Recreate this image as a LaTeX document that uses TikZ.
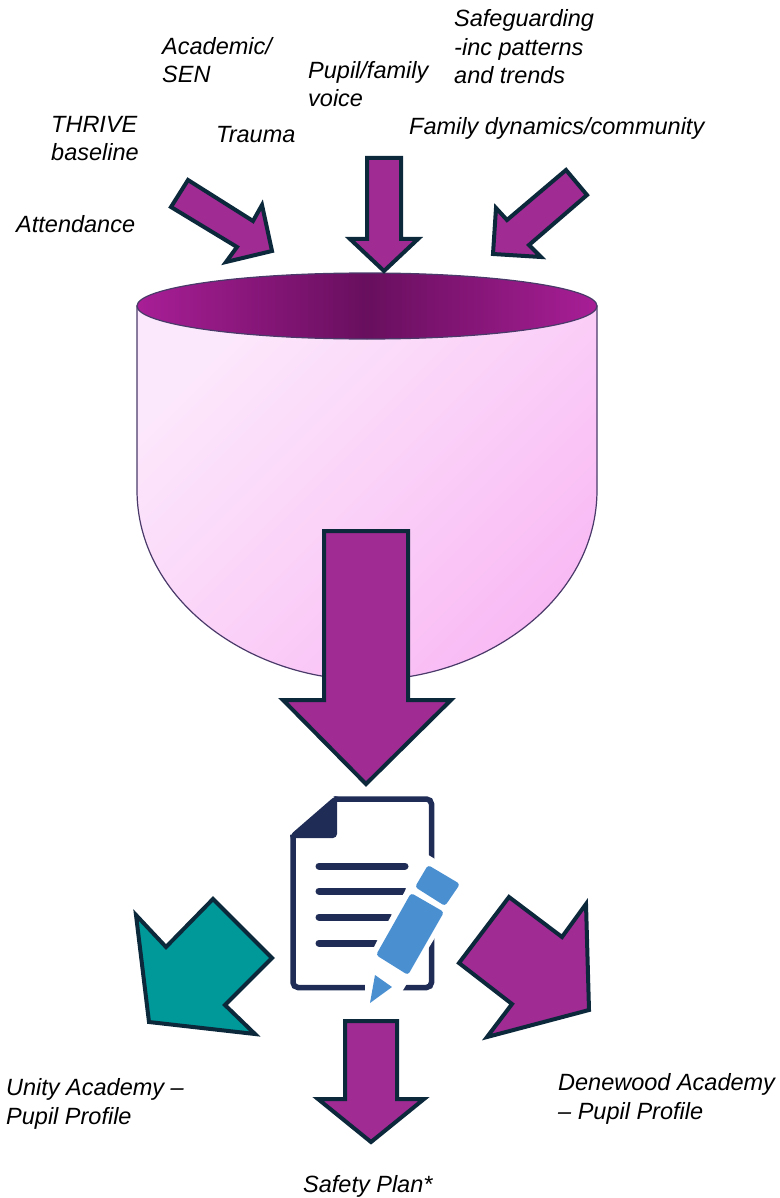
\documentclass[tikz,border=0pt]{standalone}
\usepackage{fontspec}
\setmainfont{Liberation Sans}
\definecolor{arrowpurple}{HTML}{A02B93}
\definecolor{arrowteal}{HTML}{009999}
\definecolor{arrowedge}{HTML}{0C293C}
\definecolor{docnavy}{HTML}{1F2C55}
\definecolor{penblue}{HTML}{4A90D0}
\definecolor{bowledge}{HTML}{4A3A6A}
\definecolor{bowlpale}{HTML}{FCE8FC}
\definecolor{bowlpink}{HTML}{F9BAF4}
\definecolor{rimdark}{HTML}{680F5E}
\definecolor{rimedge}{HTML}{A81E96}
\pgfdeclarehorizontalshading{rimshade}{100bp}{color(0bp)=(rimedge); color(25bp)=(rimedge); color(50bp)=(rimdark); color(75bp)=(rimedge); color(100bp)=(rimedge)}

\begin{document}
\begin{tikzpicture}[x=1pt,y=-1pt]
	\tikzstyle{blockarrow}=[draw=arrowedge,line width=4pt,miter limit=20,fill=arrowpurple]
	\tikzstyle{caption}=[font=\itshape\fontsize{23.5}{28.5}\selectfont,align=left,anchor=base west,inner sep=0pt]
	\tikzstyle{docline}=[docnavy,line width=7pt,line cap=round]
	\tikzstyle{penpart}=[fill=penblue,rounded corners=3pt]

	\useasboundingbox (0,0) rectangle (779,1198);

	\draw [draw=bowledge,line width=1.2pt,top color=bowlpale,bottom color=bowlpink,shading angle=45] (137,306) -- (137,490) .. controls (137,600) and (250,680) .. (367,680) .. controls (484,680) and (597,600) .. (597,490) -- (597,306) -- cycle;
	\draw [draw=bowledge,line width=1.2pt,shade,shading=rimshade] (367,306) ellipse (230 and 33);

	\draw [blockarrow] (188,180) -- (253,221) -- (262,205) -- (272,251) -- (226,262) -- (237,247) -- (171,207) -- cycle;
	\draw [blockarrow] (367,158) -- (401,158) -- (401,239) -- (418,239) -- (384,271) -- (350,239) -- (367,239) -- cycle;
	\draw [blockarrow] (566,170) -- (587,195) -- (529,245) -- (541,257) -- (493,254) -- (496,208) -- (507,220) -- cycle;
	\draw [blockarrow] (324,531) -- (408,531) -- (408,700) -- (451,700) -- (366,784) -- (283,700) -- (324,700) -- cycle;
	\draw [blockarrow,fill=arrowteal] (213,899) -- (272,958) -- (225,1005) -- (255,1034) -- (149,1022) -- (136,915) -- (166,947) -- cycle;
	\draw [blockarrow] (509,897) -- (562,937) -- (586,904) -- (589,1010) -- (487,1037) -- (512,1004) -- (459,963) -- cycle;
	\draw [blockarrow] (345,1021) -- (397,1021) -- (397,1099) -- (424,1099) -- (371,1142) -- (318,1099) -- (345,1099) -- cycle;

	\draw [docnavy,line width=5.5pt,rounded corners=5pt] (335,799) -- (431.5,799) -- (431.5,987.5) -- (293,987.5) -- (293,835);
	\fill [docnavy,rounded corners=4pt] (335,796) -- (337,796) -- (337,838) -- (290,838) -- (290,835) -- cycle;
	\draw [docline] (319,866) -- (405,866);
	\draw [docline] (319,891) -- (405,891);
	\draw [docline] (319,917) -- (390,917);
	\draw [docline] (319,943) -- (376,943);
	\fill [white] (420,850) -- (470,880) -- (397,1000) -- (365,1000) -- (365,965) -- (376,943) -- (405,891) -- cycle;
	\fill [penpart] (411,893) -- (444,912) -- (408,975) -- (376,955) -- cycle;
	\fill [penpart] (428,865) -- (460,884) -- (445,906) -- (415,887) -- cycle;
	\fill [penblue] (375,975) -- (392,987) -- (370,1003) -- cycle;

	\node (safeguarding) [caption] at (454,84) {Safeguarding\\-inc patterns\\and trends};
	\node (family) [caption] at (409,135) {Family dynamics/community};
	\node (pupil) [caption] at (308,107) {Pupil/family\\voice};
	\node (academic) [caption] at (162,83) {Academic/\\SEN};
	\node (thrive) [caption] at (51,161) {THRIVE\\baseline};
	\node (trauma) [caption] at (216,143) {Trauma};
	\node (attendance) [caption] at (16,233) {Attendance};
	\node (unity) [caption] at (6,1124) {Unity Academy --\\Pupil Profile};
	\node (denewood) [caption] at (558,1119) {Denewood Academy\\-- Pupil Profile};
	\node (safety) [caption] at (303,1192) {Safety Plan*};
\end{tikzpicture}
\end{document}
